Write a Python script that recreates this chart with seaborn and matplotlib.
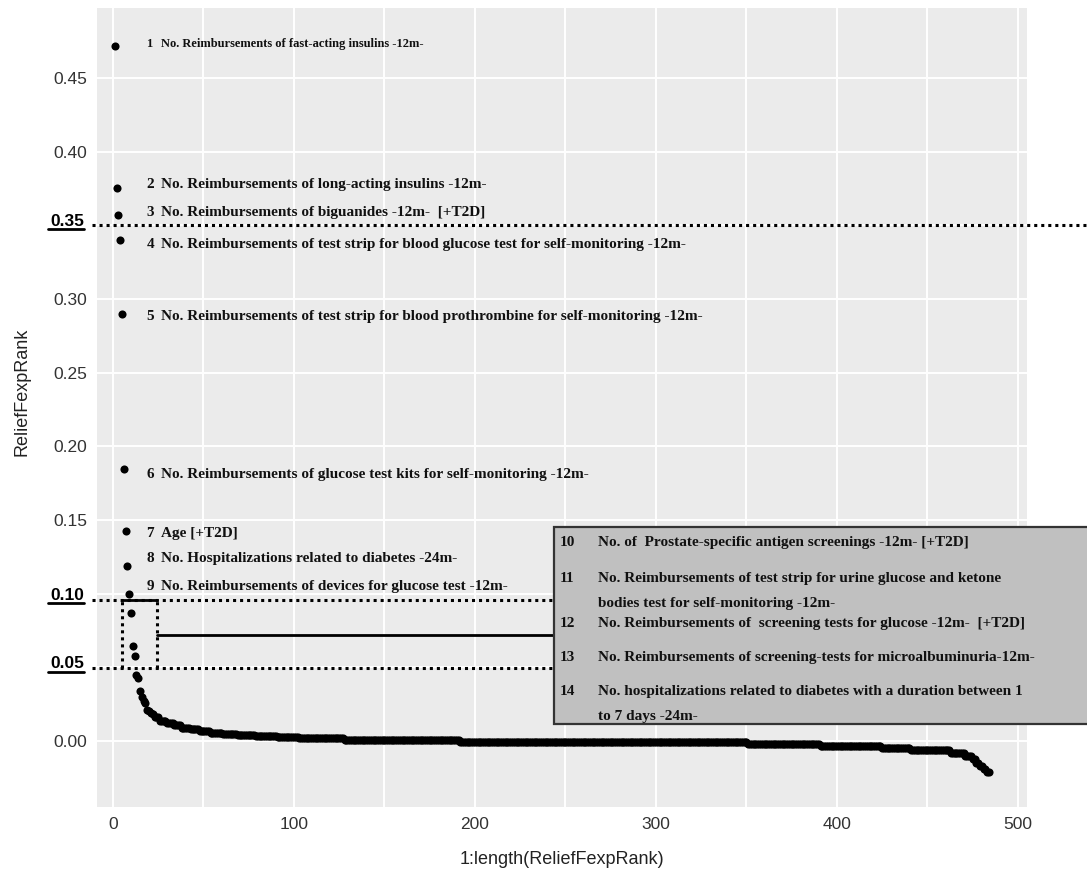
import numpy as np
import pandas as pd
import seaborn as sns
import matplotlib.pyplot as plt
from matplotlib import transforms
from matplotlib.patches import Rectangle

# ReliefF scores, ranked (first 22 read one by one, the rest as runs of equal values)
top_scores = [0.472, 0.3755, 0.357, 0.340, 0.2895, 0.1847, 0.1428, 0.119, 0.100,
              0.0866, 0.0643, 0.058, 0.0447, 0.0426, 0.0338, 0.030, 0.027, 0.026,
              0.021, 0.0205, 0.019, 0.018]
tail_levels = [0.016, 0.0135, 0.012, 0.0105, 0.009, 0.008, 0.0068, 0.0057, 0.0048,
               0.004, 0.0032, 0.0025, 0.002, 0.0007, -0.0007, -0.002, -0.0034,
               -0.0047, -0.006, -0.008, -0.010, -0.012, -0.015, -0.017, -0.019, -0.021]
tail_counts = [3, 4, 4, 4, 5, 5, 6, 7, 8, 10, 12, 12, 25, 64, 159, 40, 34, 16, 22,
               8, 4, 2, 2, 2, 2, 2]

# labels for the top 9 features
label_nums = ['1', '2', '3', '4', '5', '6', '7', '8', '9']
label_texts = [
    'No. Reimbursements of fast-acting insulins -12m-',
    'No. Reimbursements of long-acting insulins -12m-',
    'No. Reimbursements of biguanides -12m-  [+T2D]',
    'No. Reimbursements of test strip for blood glucose test for self-monitoring -12m-',
    'No. Reimbursements of test strip for blood prothrombine for self-monitoring -12m-',
    'No. Reimbursements of glucose test kits for self-monitoring -12m-',
    'Age [+T2D]',
    'No. Hospitalizations related to diabetes -24m-',
    'No. Reimbursements of devices for glucose test -12m-',
]
label_y = [0.473, 0.378, 0.359, 0.337, 0.288, 0.181, 0.141, 0.124, 0.105]

# features 10-14 listed in the grey box
box_nums = ['10', '11', '', '12', '13', '14', '']
box_rows = [
    'No. of  Prostate-specific antigen screenings -12m- [+T2D]',
    'No. Reimbursements of test strip for urine glucose and ketone',
    'bodies test for self-monitoring -12m-',
    'No. Reimbursements of  screening tests for glucose -12m-  [+T2D]',
    'No. Reimbursements of screening-tests for microalbuminuria-12m-',
    'No. hospitalizations related to diabetes with a duration between 1',
    'to 7 days -24m-',
]
box_row_y = [0.1346, 0.110, 0.0935, 0.080, 0.0568, 0.0338, 0.0165]

# thresholds drawn as dotted lines
thr_values = [0.35, 0.096, 0.0495]
thr_labels = ['0.35', '0.10', '0.05']

scores = np.concatenate([top_scores, np.repeat(tail_levels, tail_counts)])
df = pd.DataFrame({'rank': np.arange(1, len(scores) + 1), 'ReliefFexpRank': scores})

sns.set_theme(style='darkgrid', rc={'axes.facecolor': '#EBEBEB', 'grid.color': 'white'})
plt.rcParams['font.family'] = ['Liberation Sans', 'DejaVu Sans']

fig = plt.figure(figsize=(10.87, 8.74), dpi=100)
ax = fig.add_axes([0.0892, 0.0767, 0.8556, 0.9141])

sns.scatterplot(data=df, x='rank', y='ReliefFexpRank', color='black', s=34,
                linewidth=0, ax=ax, zorder=3)

ax.set_xlim(-8.8, 505)
ax.set_ylim(-0.0448, 0.4975)
ax.set_xticks([0, 100, 200, 300, 400, 500])
ax.set_xticks([50, 150, 250, 350, 450], minor=True)
yt = [0.00, 0.05, 0.10, 0.15, 0.20, 0.25, 0.30, 0.35, 0.40, 0.45]
ax.set_yticks(yt)
ax.set_yticklabels(['' if f'{v:.2f}' in thr_labels else f'{v:.2f}' for v in yt])
ax.grid(which='major', color='white', lw=1.4)
ax.grid(which='minor', axis='x', color='white', lw=1.4)
ax.tick_params(axis='both', which='major', length=4, width=1, color='#444',
               labelsize=12.5, labelcolor='#333', pad=3)
ax.tick_params(axis='x', which='minor', length=0)
for sp in ax.spines.values():
    sp.set_visible(False)

ax.set_xlabel('1:length(ReliefFexpRank)', fontsize=13, color='#222')
ax.set_ylabel('ReliefFexpRank', fontsize=13, color='#222')
ax.xaxis.set_label_coords(0.5, -0.055)
ax.yaxis.set_label_coords(-0.071, 0.52)

serif = ['Liberation Serif', 'DejaVu Serif']
for i in range(len(label_nums)):
    fs = 9 if i == 0 else 11
    ax.text(18.5, label_y[i], label_nums[i], family=serif, weight='bold',
            fontsize=fs, va='center', ha='left', color='#111')
    ax.text(26.5, label_y[i], label_texts[i], family=serif, weight='bold',
            fontsize=fs, va='center', ha='left', color='#111')

# threshold lines + underlined labels
blend = transforms.blended_transform_factory(ax.transAxes, ax.transData)
dot = dict(color='black', lw=2.2, dashes=(1, 1.3), clip_on=False, zorder=4)
ax.plot([-11.6, 540], [thr_values[0]] * 2, **dot)
for t in thr_values[1:]:
    ax.plot([-11.6, 243.6], [t, t], **dot)
for t, lab in zip(thr_values, thr_labels):
    ax.text(-0.0135, t + 0.0028, lab, transform=blend, ha='right', va='center',
            fontsize=12.5, weight='bold', color='black')
    ax.plot([-0.0525, -0.0135], [t - 0.0025] * 2, transform=blend, color='black',
            lw=2, clip_on=False)

# dotted box around features 10-14 and connector
ax.plot([5, 5], [thr_values[2], thr_values[1]], **dot)
ax.plot([24.3, 24.3], [thr_values[2], thr_values[1]], **dot)
ax.plot([5, 24.3], [thr_values[1]] * 2, color='black', lw=2, zorder=4)
ax.plot([24.3, 243.6], [0.072, 0.072], color='black', lw=2, zorder=4)

ax.add_patch(Rectangle((243.6, 0.0115), 300, 0.1338, facecolor='#C0C0C0',
                       edgecolor='#333', lw=1.6, clip_on=False, zorder=5))
for num, row, y in zip(box_nums, box_rows, box_row_y):
    ax.text(247, y, num, family=serif, weight='bold', fontsize=11,
            va='center', ha='left', color='#111', zorder=6)
    ax.text(268, y, row, family=serif, weight='bold', fontsize=11,
            va='center', ha='left', color='#111', zorder=6, clip_on=False)

fig.savefig('out.png', dpi=100)
